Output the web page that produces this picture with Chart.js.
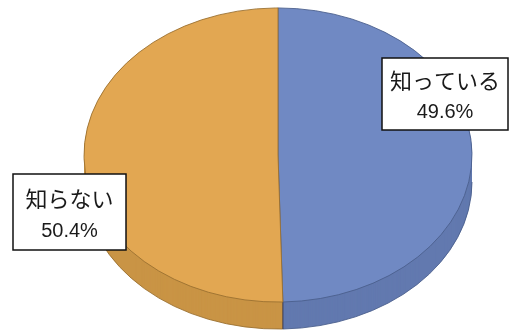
<!DOCTYPE html>
<html>
<head>
<meta charset="utf-8">
<script src="https://cdn.jsdelivr.net/npm/chart.js@4"></script>
<style>
  html, body { margin: 0; padding: 0; background: #fff; }
  #wrap { position: relative; width: 511px; height: 331px; }
</style>
</head>
<body>
<div id="wrap"><canvas id="chart"></canvas></div>
<script>
// data
const labels = ['知っている', '知らない'];
const values = [49.6, 50.4];
const pctLabels = ['49.6%', '50.4%'];
const topColors = ['#7089c3', '#e2a752'];
const sideColors = ['#6279af', '#c99445'];
const edgeColors = ['#4a5f8c', '#9a7030'];

// look of the tilted pie
const tilt = 0.758;   // vertical squash of the top face
const depth = 27;     // thickness of the side in px

// label boxes (text annotations)
const boxes = [
  {x: 382, y: 58, w: 126, h: 72},
  {x: 13, y: 174, w: 113, h: 76}
];

function sector(ctx, el) {
  ctx.beginPath();
  ctx.moveTo(el.x, el.y);
  ctx.arc(el.x, el.y, el.outerRadius, el.startAngle, el.endAngle);
  ctx.closePath();
}

const tiltPlugin = {
  id: 'tilt',
  beforeDatasetsDraw(chart) {
    const ctx = chart.ctx;
    const arcs = chart.getDatasetMeta(0).data;
    const cx = arcs[0].x, cy = arcs[0].y;
    // side of the pie: the slices stacked downwards
    for (let k = depth; k >= 1; k--) {
      ctx.save();
      ctx.translate(cx, cy + k);
      ctx.scale(1, tilt);
      ctx.translate(-cx, -cy);
      arcs.forEach((el, i) => {
        ctx.fillStyle = sideColors[i];
        sector(ctx, el);
        ctx.fill();
      });
      ctx.restore();
    }
    // lower edge line and split line on the side
    ctx.save();
    ctx.translate(cx, cy + depth);
    ctx.scale(1, tilt);
    ctx.translate(-cx, -cy);
    arcs.forEach((el, i) => {
      const s = Math.max(el.startAngle, 0), e = Math.min(el.endAngle, Math.PI);
      if (e > s) {
        ctx.beginPath();
        ctx.arc(cx, cy, el.outerRadius, s, e);
        ctx.strokeStyle = edgeColors[i];
        ctx.lineWidth = 1;
        ctx.stroke();
      }
    });
    ctx.restore();
    const split = arcs[0].endAngle;
    const r = arcs[0].outerRadius;
    const px = cx + r * Math.cos(split), py = cy + tilt * r * Math.sin(split);
    ctx.beginPath();
    ctx.moveTo(px, py);
    ctx.lineTo(px, py + depth);
    ctx.strokeStyle = '#3a3a50';
    ctx.lineWidth = 1;
    ctx.stroke();
    // top face
    ctx.save();
    ctx.translate(cx, cy);
    ctx.scale(1, tilt);
    ctx.translate(-cx, -cy);
  },
  afterDatasetsDraw(chart) {
    const ctx = chart.ctx;
    ctx.restore();
    ctx.save();
    boxes.forEach((b, i) => {
      ctx.fillStyle = '#fff';
      ctx.fillRect(b.x, b.y, b.w, b.h);
      ctx.strokeStyle = '#111';
      ctx.lineWidth = 1.5;
      ctx.strokeRect(b.x, b.y, b.w, b.h);
      ctx.fillStyle = '#1a1a1a';
      ctx.textAlign = 'center';
      ctx.textBaseline = 'middle';
      ctx.font = '22px "Noto Sans CJK JP"';
      ctx.fillText(labels[i], b.x + b.w / 2, b.y + b.h * 0.32);
      ctx.font = '20px "Liberation Sans", "Noto Sans CJK JP"';
      ctx.fillText(pctLabels[i], b.x + b.w / 2, b.y + b.h * 0.76);
    });
    ctx.restore();
  }
};

new Chart(document.getElementById('chart'), {
  type: 'pie',
  data: {
    labels: labels,
    datasets: [{
      data: values,
      backgroundColor: topColors,
      borderColor: edgeColors,
      borderWidth: 1,
      hoverOffset: 0
    }]
  },
  options: {
    responsive: true,
    maintainAspectRatio: false,
    animation: false,
    radius: 194,
    layout: {padding: {left: 45, right: 0, top: 0, bottom: 21}},
    plugins: {
      legend: {display: false},
      tooltip: {enabled: false}
    },
    events: []
  },
  plugins: [tiltPlugin]
});
</script>
</body>
</html>
